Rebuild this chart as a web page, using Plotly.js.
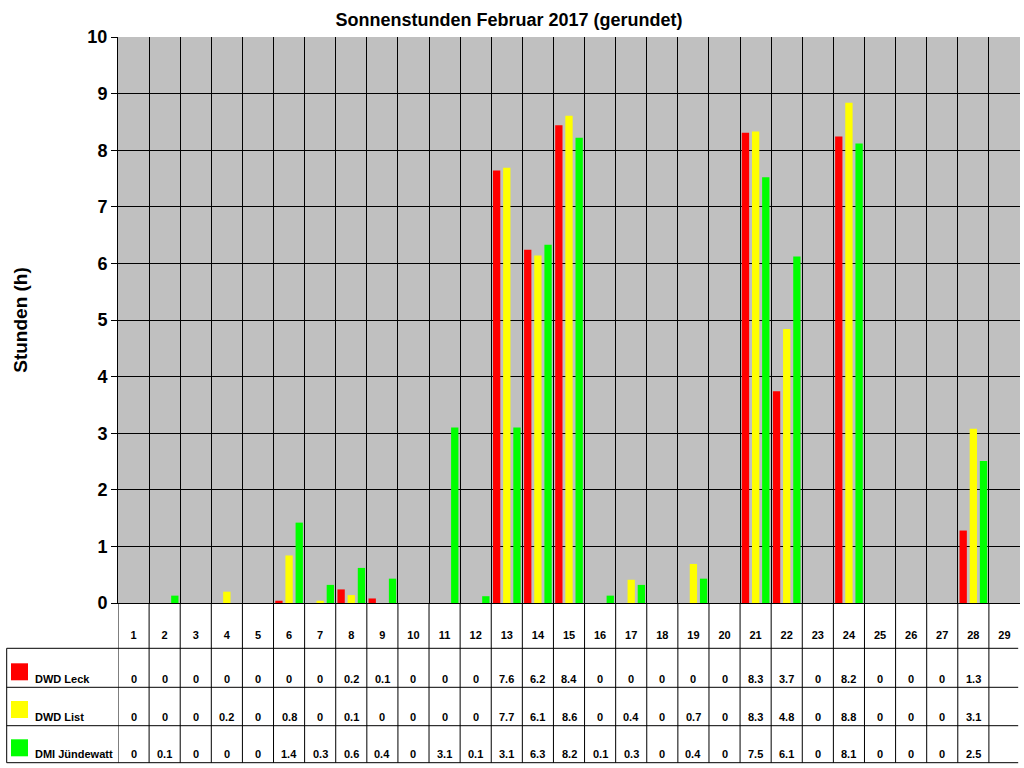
<!DOCTYPE html>
<html>
<head>
<meta charset="utf-8">
<script src="https://cdn.plot.ly/plotly-3.0.1.min.js"></script>
<style>
body { margin: 0; background: #fff; }
#chart { width: 1024px; height: 768px; }
</style>
</head>
<body>
<div id="chart"></div>
<script>
// Tage im Februar (Spalte 29 bleibt leer)
var days = ['1','2','3','4','5','6','7','8','9','10','11','12','13','14','15',
            '16','17','18','19','20','21','22','23','24','25','26','27','28','29'];

var stations = ['DWD Leck', 'DWD List', 'DMI Jündewatt'];
var colors = ['#ff0000', '#ffff00', '#00ff00'];

var leck = [0, 0, 0, 0, 0, 0.04, 0, 0.24, 0.08, 0, 0, 0, 7.64, 6.24, 8.44,
            0, 0, 0, 0, 0, 8.31, 3.74, 0, 8.24, 0, 0, 0, 1.28];
var list = [0, 0, 0, 0.2, 0, 0.84, 0.04, 0.14, 0, 0, 0, 0, 7.69, 6.14, 8.61,
            0, 0.41, 0, 0.69, 0, 8.33, 4.84, 0, 8.84, 0, 0, 0, 3.08];
var juendewatt = [0, 0.13, 0, 0, 0, 1.42, 0.32, 0.62, 0.43, 0, 3.1, 0.12, 3.1, 6.33, 8.22,
                  0.13, 0.32, 0, 0.43, 0, 7.52, 6.12, 0, 8.12, 0, 0, 0, 2.51];

var series = [leck, list, juendewatt];

// pixel row -> paper y (plot area spans 37..603 px)
function py(px) { return (603 - px) / 566; }
function px2paper(px) { return (px - 118) / 902; }
function fmt(v) { return String(Math.round(v * 10) / 10); }

var traces = [];
for (var s = 0; s < series.length; s++) {
  traces.push({
    type: 'bar',
    name: stations[s],
    x: days.slice(0, series[s].length),
    y: series[s],
    marker: { color: colors[s], line: { width: 0 } },
    hoverinfo: 'x+y+name'
  });
}

var boldFont = { family: 'Liberation Sans, Arial, sans-serif', size: 11, color: '#000', weight: 'bold' };

var rowLines = [648.3, 687.3, 725.7, 762.7];
var rowText = [679, 717, 754];
var keyTop = [663.3, 701, 739.3];

var shapes = [];
var annotations = [];

// table: vertical cell borders under each category boundary
for (var i = 0; i < days.length; i++) {
  shapes.push({
    type: 'line', xref: 'x', yref: 'paper',
    x0: i - 0.5, x1: i - 0.5, y0: 0, y1: py(rowLines[3]),
    line: { color: '#000', width: 1 }
  });
}
// left border of legend column
shapes.push({
  type: 'line', xref: 'paper', yref: 'paper',
  x0: px2paper(6.7), x1: px2paper(6.7), y0: py(rowLines[0]), y1: py(rowLines[3]),
  line: { color: '#000', width: 1 }
});
// horizontal row borders
for (var r = 0; r < rowLines.length; r++) {
  shapes.push({
    type: 'line', xref: 'paper', yref: 'paper',
    x0: px2paper(6.7), x1: 0.998, y0: py(rowLines[r]), y1: py(rowLines[r]),
    line: { color: '#000', width: 1 }
  });
}

for (var s = 0; s < series.length; s++) {
  // legend key
  shapes.push({
    type: 'rect', xref: 'paper', yref: 'paper',
    x0: px2paper(11), x1: px2paper(28), y0: py(keyTop[s]), y1: py(keyTop[s] + 17),
    fillcolor: colors[s], line: { width: 0 }
  });
  annotations.push({
    text: stations[s], xref: 'paper', yref: 'paper',
    x: px2paper(33), y: py(rowText[s]), xanchor: 'left', yanchor: 'middle',
    showarrow: false, font: boldFont
  });
  for (var d = 0; d < series[s].length; d++) {
    // category index d = day d+1
    annotations.push({
      text: fmt(series[s][d]), xref: 'x', yref: 'paper',
      x: d, y: py(rowText[s]), xanchor: 'center', yanchor: 'middle',
      showarrow: false, font: boldFont
    });
  }
}

var layout = {
  width: 1024,
  height: 768,
  margin: { l: 118, r: 4, t: 37, b: 165 },
  paper_bgcolor: '#ffffff',
  plot_bgcolor: '#c0c0c0',
  font: { family: 'Liberation Sans, Arial, sans-serif', color: '#000' },
  title: {
    text: 'Sonnenstunden Februar 2017 (gerundet)',
    font: { size: 18, weight: 'bold' },
    xref: 'container', x: 0.497,
    yref: 'container', y: 1 - 20 / 768, yanchor: 'middle'
  },
  showlegend: false,
  barmode: 'group',
  bargap: 0.02,
  bargroupgap: 0.28,
  xaxis: {
    type: 'category',
    categoryorder: 'array',
    categoryarray: days,
    range: [-0.5, 28.5],
    tickson: 'boundaries',
    ticks: '',
    showgrid: true,
    gridcolor: '#000',
    gridwidth: 1,
    showline: true,
    linecolor: '#000',
    linewidth: 1,
    tickfont: boldFont,
    ticklabelstandoff: 22,
    fixedrange: true
  },
  yaxis: {
    range: [0, 10],
    tick0: 0,
    dtick: 1,
    ticks: 'outside',
    ticklen: 6,
    tickcolor: '#000',
    showgrid: true,
    gridcolor: '#000',
    gridwidth: 1,
    zeroline: false,
    showline: true,
    linecolor: '#000',
    tickfont: { family: 'Liberation Sans, Arial, sans-serif', size: 18, weight: 'bold' },
    title: {
      text: 'Stunden (h)',
      font: { size: 19, weight: 'bold' },
      standoff: 54
    },
    fixedrange: true
  },
  shapes: shapes,
  annotations: annotations
};

Plotly.newPlot('chart', traces, layout, { displayModeBar: false, staticPlot: true });
</script>
</body>
</html>
